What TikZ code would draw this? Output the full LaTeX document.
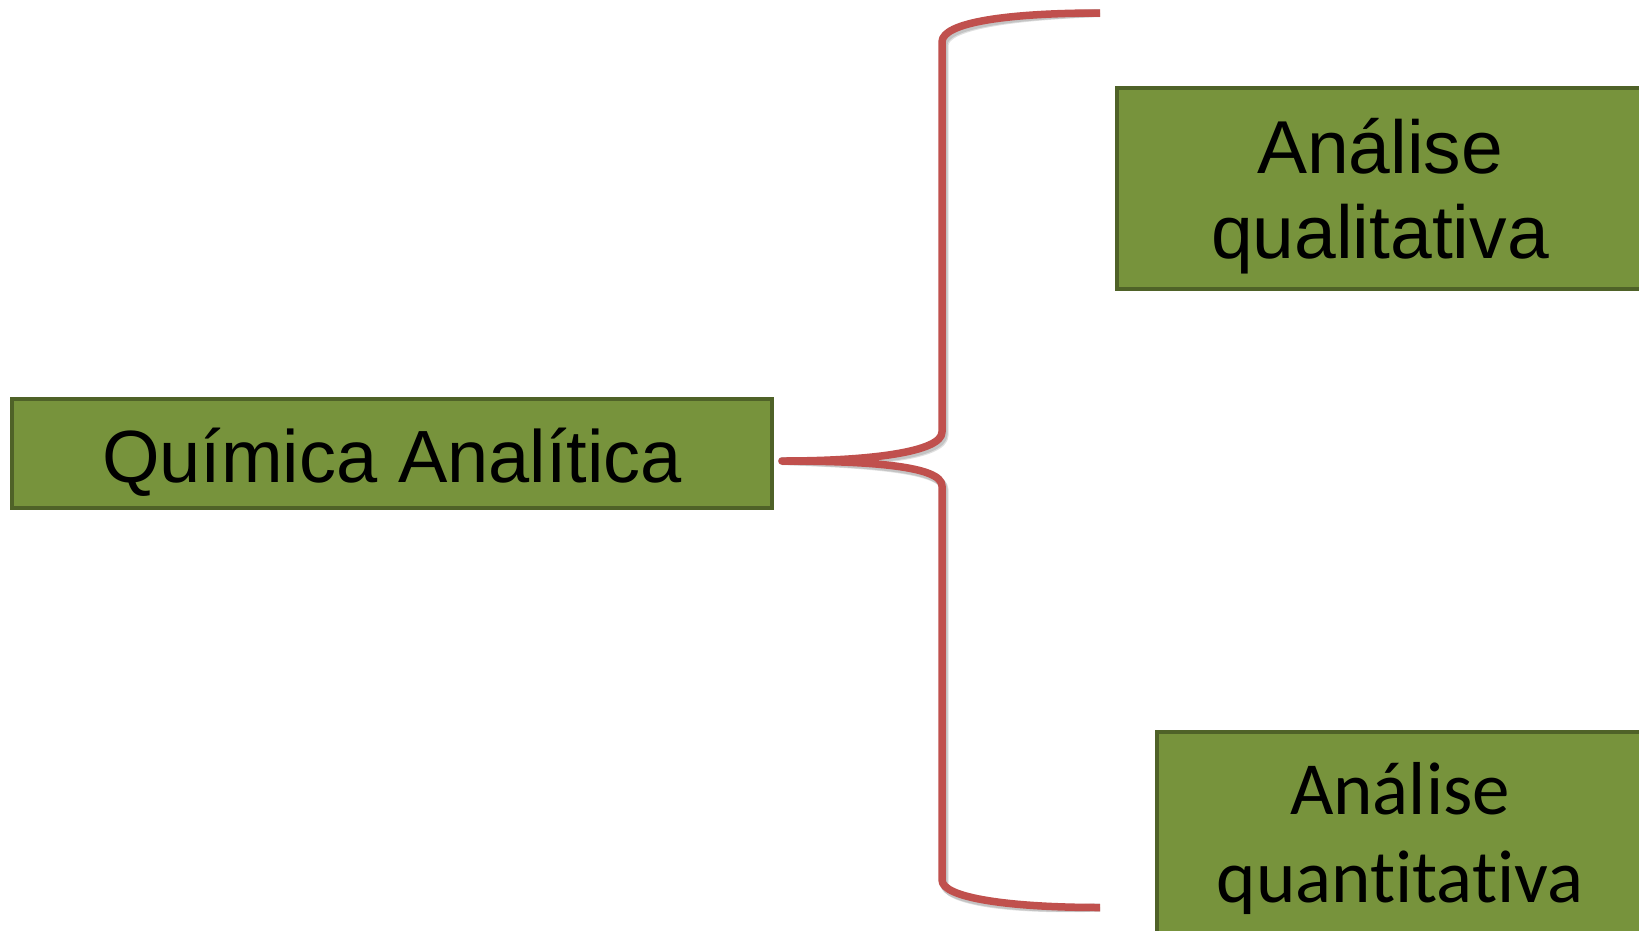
\documentclass[tikz,border=0pt]{standalone}
\usepackage{fontspec}
\setmainfont{Liberation Sans}
\newfontfamily\arialf{Liberation Sans}
\newfontfamily\calibrif[Ligatures=NoCommon]{Carlito}
\definecolor{olivefill}{HTML}{77933C}
\definecolor{oliveedge}{HTML}{4F6228}
\definecolor{bracered}{HTML}{C0504D}
\tikzset{
  greenbox/.style={draw=oliveedge, line width=4pt, fill=olivefill, inner sep=0pt,
    align=center, text=black, text depth=0pt},
  bracepath/.style={draw=bracered, line width=7.5pt, line join=round, line cap=butt},
  braceshadow/.style={draw=black, line width=8pt, line join=round, opacity=0.12}
}
\begin{document}
\begin{tikzpicture}[x=1pt,y=-1pt]
  \useasboundingbox (0,0) rectangle (1639,930);
  \clip (0,0) rectangle (1639,930);
  \fill[white] (0,0) rectangle (1639,930);

  % boxes
  \node[greenbox, minimum width=760pt, minimum height=109pt, text height=57pt,
        font=\arialf\fontsize{74}{84}\selectfont] (qa) at (392,453.5) {Química Analítica};
  \node[greenbox, minimum width=526pt, minimum height=201pt, text height=139pt,
        font=\arialf\fontsize{75}{85}\selectfont] (ql) at (1380,188.5) {Análise\\qualitativa};
  \node[greenbox, minimum width=486pt, minimum height=201pt, text height=139pt,
        font=\calibrif\fontsize{75}{88}\selectfont] (qt) at (1400,832.5) {Análise\\quantitativa};

  % brace ends and tip
  \coordinate (tip) at (782,461);
  \coordinate (btop) at (1100,13);
  \coordinate (bbot) at (1100,907.5);

  % soft shadow under the brace
  \foreach \dx/\dy in {1.5/2.5, 2.5/3.5}{
    \begin{scope}[shift={(\dx,\dy)}]
      \path[braceshadow] (btop) .. controls (1010,13) and (942,22) .. (942,42)
        -- (942,432) .. controls (942,452) and (870,461) .. (tip)
        .. controls (870,461) and (942,466) .. (942,486)
        -- (942,880) .. controls (942,898) and (1010,907.5) .. (bbot);
    \end{scope}
  }
  % the brace
  \path[bracepath] (btop) .. controls (1010,13) and (942,22) .. (942,42)
    -- (942,432) .. controls (942,452) and (870,461) .. (tip)
    .. controls (870,461) and (942,466) .. (942,486)
    -- (942,880) .. controls (942,898) and (1010,907.5) .. (bbot);
\end{tikzpicture}
\end{document}
